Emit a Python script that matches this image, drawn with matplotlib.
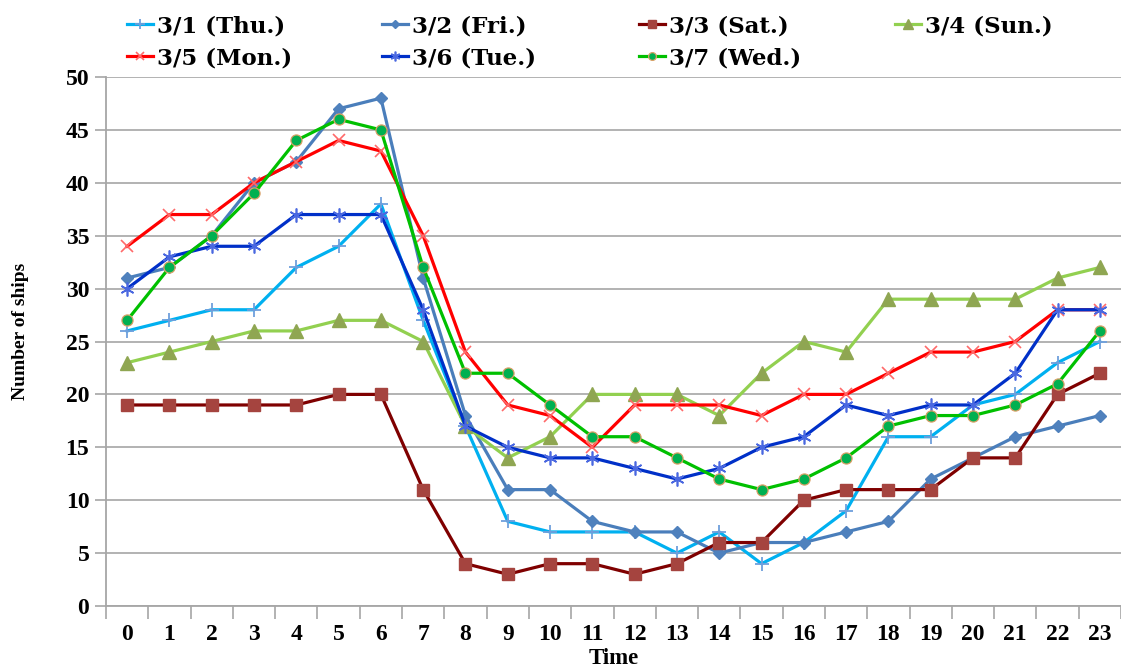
import matplotlib
matplotlib.use("Agg")
import matplotlib.pyplot as plt

hours = list(range(24))

thu_0301 = [26, 27, 28, 28, 32, 34, 38, 27, 17, 8, 7, 7, 7, 5, 7, 4, 6, 9, 16, 16, 19, 20, 23, 25]
fri_0302 = [31, 32, 35, 40, 42, 47, 48, 31, 18, 11, 11, 8, 7, 7, 5, 6, 6, 7, 8, 12, 14, 16, 17, 18]
sat_0303 = [19, 19, 19, 19, 19, 20, 20, 11, 4, 3, 4, 4, 3, 4, 6, 6, 10, 11, 11, 11, 14, 14, 20, 22]
sun_0304 = [23, 24, 25, 26, 26, 27, 27, 25, 17, 14, 16, 20, 20, 20, 18, 22, 25, 24, 29, 29, 29, 29, 31, 32]
mon_0305 = [34, 37, 37, 40, 42, 44, 43, 35, 24, 19, 18, 15, 19, 19, 19, 18, 20, 20, 22, 24, 24, 25, 28, 28]
tue_0306 = [30, 33, 34, 34, 37, 37, 37, 28, 17, 15, 14, 14, 13, 12, 13, 15, 16, 19, 18, 19, 19, 22, 28, 28]
wed_0307 = [27, 32, 35, 39, 44, 46, 45, 32, 22, 22, 19, 16, 16, 14, 12, 11, 12, 14, 17, 18, 18, 19, 21, 26]

labels = ["3/1 (Thu.)", "3/2 (Fri.)", "3/3 (Sat.)", "3/4 (Sun.)",
          "3/5 (Mon.)", "3/6 (Tue.)", "3/7 (Wed.)"]
series = [thu_0301, fri_0302, sat_0303, sun_0304, mon_0305, tue_0306, wed_0307]

# line colour, marker, marker size, marker face, marker edge
styles = [
    dict(color="#00B0F0", marker="+", ms=10, mfc="#6E9FDC", mec="#6E9FDC", mew=1.3),
    dict(color="#4A7EBB", marker="D", ms=6, mfc="#4F81BD", mec="#4F81BD", mew=1),
    dict(color="#7F0000", marker="s", ms=8.5, mfc="#A5443F", mec="#A5443F", mew=1),
    dict(color="#92D050", marker="^", ms=9.5, mfc="#8FA652", mec="#8FA652", mew=1),
    dict(color="#FF0000", marker="x", ms=9, mfc="#FF6A6A", mec="#FF6A6A", mew=1.2),
    dict(color="#0030C8", marker=(6, 2, 0), ms=10, mfc="#4A68E0", mec="#4A68E0", mew=1.2),
    dict(color="#00C000", marker="o", ms=8, mfc="#00B050", mec="#D9A066", mew=0.9),
]

serif = "Liberation Serif"

fig = plt.figure(figsize=(11.21, 6.70), dpi=100)
ax = fig.add_axes([106 / 1121, 1 - 606 / 670, 1 - 106 / 1121, (606 - 77) / 670])

handles = []
for vals, lab, st in zip(series, labels, styles):
    h, = ax.plot(hours, vals, label=lab, lw=2.3, solid_joinstyle="round", **st)
    handles.append(h)

ax.set_xlim(-0.5, 23.5)
ax.set_ylim(0, 50)

grid_c = "#A6A6A6"
ax.set_yticks(range(0, 51, 5))
ax.yaxis.grid(True, color=grid_c, lw=1.2)
ax.set_axisbelow(True)
ax.tick_params(axis="y", direction="out", length=8, width=1.2, color=grid_c, pad=4)

# category boundaries carry tick marks, labels sit at category centres
ax.set_xticks([b - 0.5 for b in range(25)])
ax.set_xticklabels([])
ax.set_xticks(hours, minor=True)
ax.set_xticklabels([str(h) for h in hours], minor=True)
ax.tick_params(axis="x", which="major", direction="out", length=9, width=1.2, color=grid_c)
ax.tick_params(axis="x", which="minor", length=0, pad=13)

for s in ("top", "right"):
    ax.spines[s].set_visible(False)
for s in ("left", "bottom"):
    ax.spines[s].set_color(grid_c)
    ax.spines[s].set_linewidth(1.3)

for lbl in ax.get_yticklabels() + ax.get_xticklabels(minor=True):
    lbl.set_fontfamily(serif)
    lbl.set_fontweight("bold")
    lbl.set_fontsize(17)

fig.text(614 / 1121, 1 - 659 / 670, "Time", family=serif, weight="bold",
         fontsize=16.5, ha="center", va="center")
fig.text(21 / 1121, 1 - 331 / 670, "Number of ships", family=serif, weight="bold",
         fontsize=14, ha="center", va="center", rotation=90)

# legend laid out in four fixed-width columns
columns = [[0, 4], [1, 5], [2, 6], [3]]
col_x = [127, 382, 639, 895]
for xs, idx in zip(col_x, columns):
    fig.legend([handles[i] for i in idx], [labels[i] for i in idx],
               loc="upper left", bbox_to_anchor=(xs / 1121, 1 - 15 / 670),
               frameon=False, borderpad=0, borderaxespad=0,
               handlelength=1.15, handletextpad=0.15, labelspacing=0.45,
               markerscale=0.7,
               prop=dict(family="DejaVu Serif", weight="bold", size=16.5))

fig.savefig("out.png", dpi=100)
